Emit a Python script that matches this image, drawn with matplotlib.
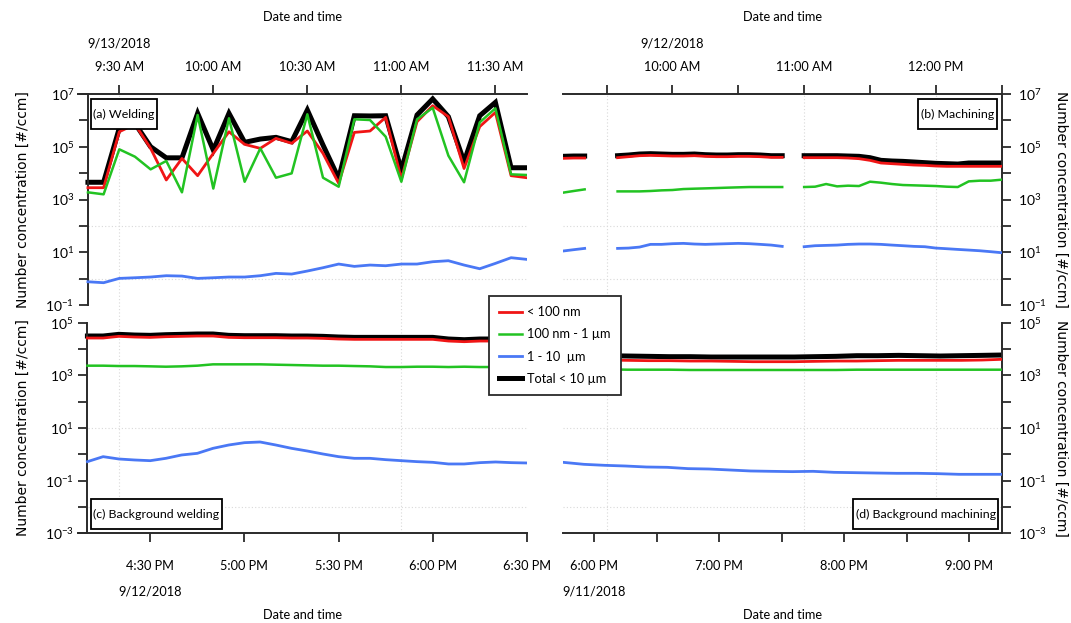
import numpy as np
import pandas as pd
import matplotlib
matplotlib.use("Agg")
import matplotlib.pyplot as plt
import matplotlib.dates as mdates
import matplotlib.ticker as mticker
import matplotlib.transforms as mtransforms
from matplotlib.lines import Line2D
from matplotlib.patches import Rectangle

plt.rcParams["font.family"] = ["Lato", "DejaVu Sans"]
plt.rcParams["axes.unicode_minus"] = False

nan = np.nan

# ---------------- (a) Welding, 13 Sep 2018 ----------------
time_a = pd.date_range("2018-09-13 09:20", "2018-09-13 11:40", freq="5min")
a_total = [4.5e3, 4.5e3, 5.0e5, 7.7e5, 1.0e5, 3.8e4, 3.8e4, 1.85e6, 7.5e4, 1.85e6,
           1.47e5, 1.96e5, 2.27e5, 1.56e5, 2.47e6, 1.16e5, 6.3e3, 1.5e6, 1.47e6, 1.5e6,
           1.31e4, 1.6e6, 6.5e6, 1.38e6, 2.7e4, 1.5e6, 4.8e6, 1.6e4, 1.6e4]
a_ultrafine = [2.8e3, 2.8e3, 3.7e5, 7.1e5, 8.7e4, 5.5e3, 3.6e4, 8.0e3, 5.6e4, 3.7e5,
               1.23e5, 8.7e4, 2.08e5, 1.35e5, 3.95e5, 5.6e4, 4.1e3, 3.5e5, 3.95e5, 1.3e6,
               6.0e3, 8.9e5, 3.6e6, 1.38e6, 1.5e4, 5.8e5, 2.0e6, 8.0e3, 6.7e3]
a_fine = [1.87e3, 1.57e3, 8.0e4, 4.2e4, 1.39e4, 2.9e4, 1.87e3, 1.6e6, 2.6e3, 1.2e6,
          4.7e3, 8.7e4, 6.7e3, 9.8e3, 1.7e6, 6.7e3, 3.05e3, 1.1e6, 1.03e6, 2.4e5,
          4.7e3, 1.1e6, 3.0e6, 4.6e4, 4.5e3, 8.4e5, 2.86e6, 9.0e3, 8.5e3]
a_coarse = [0.76, 0.70, 1.02, 1.08, 1.15, 1.29, 1.25, 1.02, 1.08, 1.15,
            1.15, 1.29, 1.58, 1.49, 1.94, 2.59, 3.57, 2.91, 3.27, 3.08,
            3.57, 3.57, 4.37, 4.77, 3.27, 2.37, 3.78, 6.21, 5.37]

# ---------------- (b) Machining, 12 Sep 2018 ----------------
time_b = pd.date_range("2018-09-12 09:10", "2018-09-12 12:30", freq="5min")
b_total = [4.33e4, 4.45e4, 4.45e4, nan, nan, 4.58e4, 4.86e4, 5.30e4, 5.46e4, 5.30e4,
           5.15e4, 5.15e4, 5.30e4, 5.00e4, 4.86e4, 4.86e4, 5.00e4, 5.00e4, 4.86e4, 4.58e4,
           4.58e4, nan, 4.58e4, 4.58e4, 4.58e4, 4.58e4, 4.45e4, 4.33e4, 3.85e4, 3.05e4,
           2.88e4, 2.79e4, 2.64e4, 2.49e4, 2.35e4, 2.28e4, 2.21e4, 2.42e4, 2.42e4, 2.42e4,
           2.42e4]
b_ultrafine = [3.63e4, 3.74e4, 3.74e4, nan, nan, 3.85e4, 4.20e4, 4.58e4, 4.72e4, 4.58e4,
               4.45e4, 4.45e4, 4.58e4, 4.33e4, 4.20e4, 4.20e4, 4.33e4, 4.33e4, 4.20e4, 3.96e4,
               3.96e4, nan, 3.85e4, 3.85e4, 3.85e4, 3.85e4, 3.74e4, 3.53e4, 3.05e4, 2.42e4,
               2.28e4, 2.15e4, 2.03e4, 1.97e4, 1.86e4, 1.81e4, 1.81e4, 1.81e4, 1.81e4, 1.81e4,
               1.81e4]
b_fine = [1.81e3, 2.10e3, 2.42e3, nan, nan, 2.03e3, 2.03e3, 2.03e3, 2.10e3, 2.22e3,
          2.29e3, 2.49e3, 2.57e3, 2.64e3, 2.72e3, 2.81e3, 2.89e3, 2.97e3, 2.97e3, 2.97e3,
          2.97e3, nan, 2.97e3, 3.06e3, 3.86e3, 3.15e3, 3.34e3, 3.24e3, 4.73e3, 4.34e3,
          3.86e3, 3.54e3, 3.44e3, 3.34e3, 3.24e3, 3.06e3, 2.97e3, 4.87e3, 5.17e3, 5.17e3,
          5.64e3]
b_coarse = [11.1, 12.5, 14.0, nan, nan, 14.0, 14.4, 15.7, 19.9, 19.9,
            21.1, 21.7, 20.5, 19.9, 20.5, 21.1, 21.7, 21.1, 19.9, 18.7,
            16.7, nan, 16.2, 17.7, 18.2, 18.7, 19.9, 20.5, 20.5, 19.9,
            18.7, 17.7, 16.7, 16.2, 14.4, 13.6, 12.8, 12.1, 11.4, 10.5,
            9.6]

# ---------------- (c) Background welding, 12 Sep 2018 ----------------
time_c = pd.date_range("2018-09-12 16:10", "2018-09-12 18:30", freq="5min")
c_total = [3.12e4, 3.12e4, 3.61e4, 3.40e4, 3.31e4, 3.50e4, 3.61e4, 3.72e4, 3.72e4, 3.31e4,
           3.21e4, 3.21e4, 3.21e4, 3.12e4, 3.12e4, 3.03e4, 2.86e4, 2.77e4, 2.77e4, 2.77e4,
           2.77e4, 2.77e4, 2.77e4, 2.40e4, 2.26e4, 2.40e4, 2.40e4, 2.40e4, 2.40e4]
c_ultrafine = [2.62e4, 2.62e4, 3.03e4, 2.86e4, 2.77e4, 2.94e4, 3.03e4, 3.12e4, 3.12e4, 2.77e4,
               2.69e4, 2.69e4, 2.69e4, 2.62e4, 2.62e4, 2.54e4, 2.40e4, 2.33e4, 2.33e4, 2.33e4,
               2.33e4, 2.33e4, 2.33e4, 2.01e4, 1.90e4, 2.01e4, 2.01e4, 2.01e4, 2.01e4]
c_fine = [2.33e3, 2.33e3, 2.26e3, 2.26e3, 2.20e3, 2.13e3, 2.20e3, 2.33e3, 2.62e3, 2.62e3,
          2.62e3, 2.62e3, 2.54e3, 2.47e3, 2.40e3, 2.33e3, 2.33e3, 2.26e3, 2.20e3, 2.07e3,
          2.07e3, 2.13e3, 2.13e3, 2.07e3, 2.13e3, 2.07e3, 2.07e3, 2.07e3, 2.07e3]
c_coarse = [0.527, 0.815, 0.665, 0.610, 0.574, 0.705, 0.944, 1.09, 1.69, 2.26,
            2.77, 2.94, 2.26, 1.69, 1.34, 1.03, 0.815, 0.705, 0.705, 0.627,
            0.574, 0.527, 0.497, 0.430, 0.430, 0.483, 0.512, 0.483, 0.469]

# ---------------- (d) Background machining, 11 Sep 2018 ----------------
time_d = pd.to_datetime(["2018-09-11 " + t for t in
                         ["18:06", "18:16", "18:26", "18:36", "18:46", "18:56", "19:06",
                          "19:16", "19:26", "19:36", "19:46", "19:56", "20:06", "20:16",
                          "20:26", "20:36", "20:46", "20:56", "21:06", "21:15"]])
d_total = [5.58e3, 5.42e3, 5.27e3, 5.12e3, 5.12e3, 4.97e3, 4.97e3, 4.97e3, 4.97e3, 4.97e3,
           5.12e3, 5.27e3, 5.58e3, 5.58e3, 5.74e3, 5.58e3, 5.42e3, 5.58e3, 5.74e3, 5.91e3]
d_ultrafine = [3.82e3, 3.71e3, 3.61e3, 3.61e3, 3.50e3, 3.50e3, 3.40e3, 3.30e3, 3.30e3, 3.30e3,
               3.40e3, 3.50e3, 3.50e3, 3.61e3, 3.71e3, 3.71e3, 3.71e3, 3.71e3, 3.82e3, 4.05e3]
d_fine = [1.69e3, 1.64e3, 1.64e3, 1.64e3, 1.60e3, 1.60e3, 1.60e3, 1.60e3, 1.60e3, 1.60e3,
          1.60e3, 1.60e3, 1.64e3, 1.64e3, 1.64e3, 1.64e3, 1.64e3, 1.64e3, 1.64e3, 1.64e3]
time_d_coarse = pd.date_range("2018-09-11 17:45", "2018-09-11 21:15", freq="10min")
d_coarse = [0.497, 0.417, 0.382, 0.360, 0.330, 0.321, 0.286, 0.277, 0.254, 0.233, 0.226,
            0.220, 0.226, 0.207, 0.201, 0.195, 0.190, 0.190, 0.184, 0.174, 0.174, 0.174]

legend_labels = ["< 100 nm", "100 nm - 1 \u00b5m", "1 - 10  \u00b5m", "Total < 10 \u00b5m"]
colors = {"ultrafine": "#f01515", "fine": "#22c322", "coarse": "#4a78f5", "total": "#000000"}
widths = {"ultrafine": 2.0, "fine": 1.8, "coarse": 2.0, "total": 3.6}

# ---------------- figure layout (pixel based) ----------------
W, H = 1071, 623
fig = plt.figure(figsize=(W / 100, H / 100), dpi=100)


def fx(px):
    return px / W


def fy(py):
    return 1 - py / H


def add_axes(x0, x1, ytop, ybot):
    ax = fig.add_axes([fx(x0), fy(ybot), (x1 - x0) / W, (ybot - ytop) / H])
    ax.patch.set_visible(False)
    return ax


ax_a = add_axes(78, 527, 94, 305)
ax_b = add_axes(562.7, 1001.7, 94, 305)
ax_c = add_axes(78, 527, 322.7, 533.3)
ax_d = add_axes(562.7, 1001.7, 322.7, 533.3)

spine_col = "#2a2a2a"
grid_kw = dict(color="#d9d9d9", lw=0.8, ls=(0, (1, 2)))
TICK_FS = 9.2


def log_label(v, pos):
    e = int(round(np.log10(v)))
    return r"$\mathregular{10^{%d}}$" % e if e % 2 else ""


def style_axes(ax, xside, yside, ylim):
    for s in ["top", "bottom", "left", "right"]:
        ax.spines[s].set_visible(s in (xside, yside))
        ax.spines[s].set_color(spine_col)
        ax.spines[s].set_linewidth(1.4)
    ax.set_yscale("log")
    ax.set_ylim(*ylim)
    ax.yaxis.set_major_locator(mticker.FixedLocator(10.0 ** np.arange(-3, 8)))
    ax.yaxis.set_minor_locator(mticker.NullLocator())
    ax.yaxis.set_major_formatter(mticker.FuncFormatter(log_label))
    if xside == "top":
        ax.xaxis.tick_top()
    else:
        ax.xaxis.tick_bottom()
    if yside == "right":
        ax.yaxis.tick_right()
    else:
        ax.yaxis.tick_left()
    ax.tick_params(axis="both", which="both", direction="out", length=6.5, width=1.3,
                   color=spine_col)
    ax.tick_params(axis="x", which="both", labelsize=TICK_FS,
                   pad=8.5 if xside == "top" else 12.5)
    ax.tick_params(axis="y", which="both", labelsize=10,
                   pad=3.5 if yside == "left" else 5)


def draw_panel(ax, t, total, ultra, fine, t_coarse, coarse):
    ax.plot(t, total, color=colors["total"], lw=widths["total"], zorder=2,
            solid_joinstyle="miter")
    ax.plot(t, ultra, color=colors["ultrafine"], lw=widths["ultrafine"], zorder=3)
    ax.plot(t, fine, color=colors["fine"], lw=widths["fine"], zorder=4)
    ax.plot(t_coarse, coarse, color=colors["coarse"], lw=widths["coarse"], zorder=5)


draw_panel(ax_a, time_a, a_total, a_ultrafine, a_fine, time_a, a_coarse)
draw_panel(ax_b, time_b, b_total, b_ultrafine, b_fine, time_b, b_coarse)
draw_panel(ax_c, time_c, c_total, c_ultrafine, c_fine, time_c, c_coarse)
draw_panel(ax_d, time_d, d_total, d_ultrafine, d_fine, time_d_coarse, d_coarse)

style_axes(ax_a, "top", "left", (1e-1, 1e7))
style_axes(ax_b, "top", "right", (1e-1, 1e7))
style_axes(ax_c, "bottom", "left", (1e-3, 1e5))
style_axes(ax_d, "bottom", "right", (1e-3, 1e5))

ts = pd.Timestamp
ax_a.set_xlim(ts("2018-09-13 09:16:50"), ts("2018-09-13 11:40:05"))
ax_b.set_xlim(ts("2018-09-12 09:10"), ts("2018-09-12 12:30"))
ax_c.set_xlim(ts("2018-09-12 16:07"), ts("2018-09-12 18:30"))
ax_d.set_xlim(ts("2018-09-11 17:44:50"), ts("2018-09-11 21:15:30"))

ax_a.spines["left"].set_position(("data", mdates.date2num(ts("2018-09-13 09:20"))))
ax_c.spines["left"].set_position(("data", mdates.date2num(ts("2018-09-12 16:10"))))

fmt = mdates.DateFormatter("%-I:%M %p")
for ax in (ax_a, ax_c):
    ax.xaxis.set_major_locator(mdates.MinuteLocator(byminute=[0, 30]))
    ax.xaxis.set_major_formatter(fmt)
for ax in (ax_b, ax_d):
    ax.xaxis.set_major_locator(mdates.HourLocator())
    ax.xaxis.set_minor_locator(mdates.MinuteLocator(byminute=[30]))
    ax.xaxis.set_major_formatter(fmt)

# faint horizontal guide lines
for ax in (ax_a, ax_b):
    for yv in (1e2, 1e0):
        ax.axhline(yv, zorder=1, **grid_kw)
for ax in (ax_c, ax_d):
    for yv in (1e1, 1e-2):
        ax.axhline(yv, zorder=1, **grid_kw)

# faint vertical guide lines running through both rows
for ax, marks in ((ax_a, ["2018-09-13 09:30", "2018-09-13 11:00"]),
                  (ax_b, ["2018-09-12 09:30", "2018-09-12 11:00", "2018-09-12 12:00"])):
    tr = mtransforms.blended_transform_factory(ax.transData, fig.transFigure)
    for m in marks:
        xv = mdates.date2num(ts(m))
        fig.add_artist(Line2D([xv, xv], [fy(533), fy(94)], transform=tr, zorder=-1, **grid_kw))

# axis titles and dates
txt_kw = dict(fontsize=TICK_FS, ha="center", va="center")
fig.text(fx((78 + 527) / 2), fy(17), "Date and time", **txt_kw)
fig.text(fx((562.7 + 1001.7) / 2), fy(17), "Date and time", **txt_kw)
fig.text(fx((78 + 527) / 2), fy(615), "Date and time", **txt_kw)
fig.text(fx((562.7 + 1001.7) / 2), fy(615), "Date and time", **txt_kw)


def date_text(ax, when, ypx, label):
    tr = mtransforms.blended_transform_factory(ax.transData, fig.transFigure)
    fig.text(mdates.date2num(ts(when)), fy(ypx), label, transform=tr, **txt_kw)


date_text(ax_a, "2018-09-13 09:30", 43, "9/13/2018")
date_text(ax_b, "2018-09-12 10:00", 43, "9/12/2018")
date_text(ax_c, "2018-09-12 16:30", 592, "9/12/2018")
date_text(ax_d, "2018-09-11 18:00", 592, "9/11/2018")

# y-axis titles
ylab_kw = dict(fontsize=10, family="DejaVu Sans", ha="center", va="center")
for yc in ((94 + 305) / 2, (322.7 + 533.3) / 2):
    fig.text(fx(23), fy(yc), "Number concentration [#/ccm]", rotation=90, **ylab_kw)
    fig.text(fx(1061), fy(yc), "Number concentration [#/ccm]", rotation=270, **ylab_kw)


# panel captions in framed boxes (box edges in pixels)
def caption(x0, x1, y0, y1, label):
    fig.add_artist(Rectangle((fx(x0), fy(y1)), (x1 - x0) / W, (y1 - y0) / H,
                             transform=fig.transFigure, fc="white", ec="black",
                             lw=1.3, zorder=3))
    fig.text(fx((x0 + x1) / 2), fy((y0 + y1) / 2), label, fontsize=8.9,
             ha="center", va="center", zorder=4)


caption(90.7, 157.3, 99, 129, "(a) Welding")
caption(917.7, 996.7, 99, 129, "(b) Machining")
caption(90.7, 221.7, 499.3, 529.3, "(c) Background welding")
caption(853.3, 998.3, 499.3, 529.3, "(d) Background machining")

# legend
handles = [Line2D([], [], color=colors[k], lw=widths[k])
           for k in ("ultrafine", "fine", "coarse", "total")]
leg = fig.legend(handles, legend_labels, loc="upper left",
                 bbox_to_anchor=(fx(489), fy(296)), borderaxespad=0, fontsize=TICK_FS,
                 handlelength=1.8, handletextpad=0.4, borderpad=0.8, labelspacing=0.8,
                 fancybox=False, framealpha=1, edgecolor=spine_col)
leg.get_frame().set_linewidth(1.3)

fig.savefig("out.png", dpi=100)
